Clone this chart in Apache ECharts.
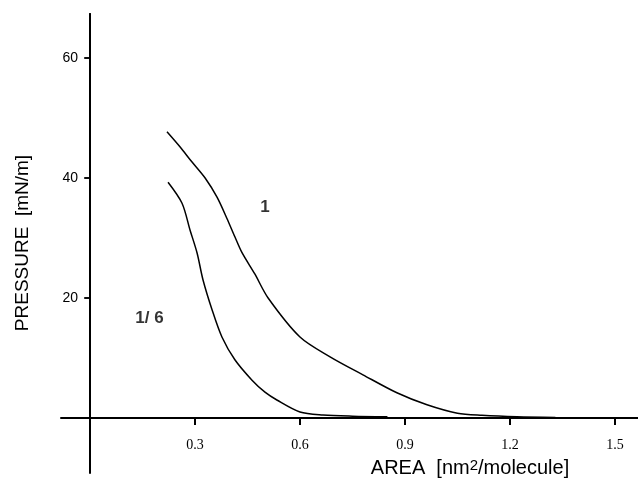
<!doctype html>
<html lang="en">
<head>
    <meta charset="UTF-8">
    <title>Pressure - Area isotherms</title>
    <style>
        html, body { margin: 0; padding: 0; background: #fff; }
        #chart { width: 638px; height: 486px; }
    </style>
    <script src="https://cdn.jsdelivr.net/npm/echarts@6/dist/echarts.min.js"></script>
</head>
<body>
<div id="chart"></div>
<script type="text/javascript">
    // data: [area nm2/molecule, pressure mN/m]
    var curve1 = [
        [0.220, 47.7], [0.257, 45.2], [0.291, 42.7], [0.329, 40.0], [0.363, 36.8],
        [0.391, 33.3], [0.414, 30.2], [0.434, 27.6], [0.471, 24.0], [0.509, 20.0],
        [0.60, 13.5], [0.686, 10.2], [0.78, 7.2], [0.877, 4.2], [0.963, 2.2],
        [1.05, 0.8], [1.12, 0.45], [1.22, 0.2], [1.33, 0.1]
    ];
    var curve16 = [
        [0.223, 39.3], [0.263, 35.8], [0.286, 31.3], [0.306, 27.5], [0.323, 23.0],
        [0.349, 18.0], [0.377, 13.5], [0.414, 9.7], [0.463, 6.3], [0.50, 4.3],
        [0.534, 3.0], [0.60, 1.0], [0.666, 0.5], [0.75, 0.3], [0.85, 0.2]
    ];
    var xStep = 0.3;   // tick labels 0.3 ... 1.5
    var yStep = 20;    // tick labels 20, 40, 60
    var labels = [
        { text: '1', at: [0.5, 35.0] },
        { text: '1/ 6', at: [0.17, 16.5] }
    ];

    var myChart = echarts.init(document.getElementById('chart'));

    var axisStyle = { color: '#000', width: 2 };
    var hidden = { show: false };

    myChart.setOption({
        animation: false,
        backgroundColor: '#fff',
        grid: [
            // wide grid: only for the axis lines running past the origin
            { left: 61, right: 0, top: 14, bottom: 13, outerBoundsMode: 'none' },
            // plot grid: origin at its lower left corner
            { left: 90, right: 0, top: 14, bottom: 68, outerBoundsMode: 'none' },
            // thin strip under the x axis for the tick marks (0 .. 1.5)
            { left: 90, right: 23, top: 418, height: 7, outerBoundsMode: 'none' },
            // thin strip left of the y axis for the tick marks (0 .. 60)
            { left: 84, width: 5, top: 58, bottom: 68, outerBoundsMode: 'none' }
        ],
        xAxis: [
            {
                gridIndex: 0, type: 'value', min: -0.083, max: 1.566,
                axisLine: { onZero: true, lineStyle: axisStyle },
                axisTick: hidden, axisLabel: hidden, splitLine: hidden
            },
            {
                gridIndex: 1, type: 'value', min: 0, max: 1.566, interval: xStep,
                name: 'AREA  [nm{s|2}/molecule]',
                nameLocation: 'middle',
                nameGap: 40,
                nameTextStyle: {
                    color: '#000', fontSize: 20, fontFamily: 'Liberation Sans', padding: [0, 0, 0, 212],
                    rich: { s: { fontSize: 15, verticalAlign: 'top', padding: [0, 0, 6, 0], color: '#000', fontFamily: 'Liberation Sans' } }
                },
                axisLine: { onZero: false, lineStyle: axisStyle },
                axisTick: { show: true, length: 7, lineStyle: axisStyle },
                axisLabel: {
                    color: '#000', fontSize: 14, showMinLabel: false, showMaxLabel: false,
                    fontFamily: 'Liberation Serif', margin: 20,
                    formatter: function (v) { return v > 0 && v < 1.55 ? v.toFixed(1) : ''; }
                },
                splitLine: hidden
            },
            {
                gridIndex: 2, type: 'value', min: 0, max: 1.5, interval: xStep,
                axisLine: hidden, axisTick: hidden, axisLabel: hidden,
                splitLine: { show: true, lineStyle: axisStyle }
            },
            { gridIndex: 3, type: 'value', show: false, min: 0, max: 1 }
        ],
        yAxis: [
            {
                gridIndex: 0, type: 'value', min: -9.2, max: 67.3,
                axisLine: { onZero: true, lineStyle: axisStyle },
                axisTick: hidden, axisLabel: hidden, splitLine: hidden
            },
            {
                gridIndex: 1, type: 'value', min: 0, max: 67.33, interval: yStep,
                name: 'PRESSURE  [mN/m]',
                nameLocation: 'middle',
                nameGap: 58,
                nameRotate: 90,
                nameTextStyle: { color: '#000', fontSize: 19, fontFamily: 'Liberation Sans', padding: [0, 54, 0, 0] },
                axisLine: { onZero: false, lineStyle: axisStyle },
                axisTick: { show: true, length: 5, lineStyle: { color: '#000', width: 1.5 } },
                axisLabel: {
                    color: '#000', fontSize: 14, fontFamily: 'Liberation Sans', margin: 12,
                    showMinLabel: false, showMaxLabel: false,
                    formatter: function (v) { return v > 0 && v % 20 === 0 ? String(v) : ''; }
                },
                splitLine: hidden
            },
            { gridIndex: 2, type: 'value', show: false, min: 0, max: 1 },
            {
                gridIndex: 3, type: 'value', min: 0, max: 60, interval: yStep,
                axisLine: hidden, axisTick: hidden, axisLabel: hidden,
                splitLine: { show: true, lineStyle: { color: '#000', width: 1.5 } }
            }
        ],
        series: [
            {
                name: '1',
                type: 'line',
                xAxisIndex: 1, yAxisIndex: 1,
                data: curve1,
                smooth: 0.3,
                symbol: 'none',
                lineStyle: { color: '#000', width: 1.5 }
            },
            {
                name: '1/6',
                type: 'line',
                xAxisIndex: 1, yAxisIndex: 1,
                data: curve16,
                smooth: 0.3,
                symbol: 'none',
                lineStyle: { color: '#000', width: 1.5 }
            },
            {
                type: 'scatter',
                xAxisIndex: 0, yAxisIndex: 0,
                symbolSize: 0,
                data: labels.map(function (l) { return { value: l.at, name: l.text }; }),
                label: {
                    show: true,
                    position: 'inside',
                    formatter: '{b}',
                    color: '#000',
                    fontSize: 17,
                    fontWeight: 'bold',
                    fontFamily: 'Liberation Sans'
                }
            }
        ]
    });
</script>
</body>
</html>
